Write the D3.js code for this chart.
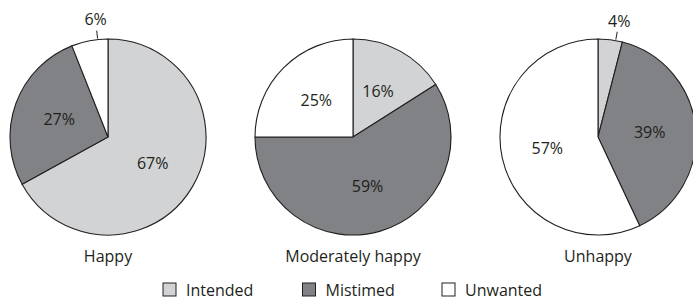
<!DOCTYPE html>
<html>
<head>
<meta charset="utf-8">
<script src="https://cdn.jsdelivr.net/npm/d3@7"></script>
<style>
  body { margin: 0; background: #fff; }
  text { font-family: "Open Sans", "Noto Sans", sans-serif; fill: #231f20; }
</style>
</head>
<body>
<div id="chart"></div>
<script>
// Pregnancy intention by happiness group (percent)
const groups = ['Happy', 'Moderately happy', 'Unhappy'];
const categories = ['Intended', 'Mistimed', 'Unwanted'];
const intended = [67, 16, 4];
const mistimed = [27, 59, 39];
const unwanted = [6, 25, 57];

const width = 693;
const height = 301;
const radius = 98;
const pieY = 137;

const color = d3.scaleOrdinal()
  .domain(categories)
  .range(['#d1d3d4', '#808285', '#ffffff']);

const x = d3.scalePoint()
  .domain(groups)
  .range([108, 598]);

const svg = d3.select('#chart')
  .append('svg')
  .attr('width', width)
  .attr('height', height);

const pie = d3.pie().sort(null).value(d => d.value);
const arc = d3.arc().innerRadius(0).outerRadius(radius);

groups.forEach((g, i) => {
  const values = [
    { cat: 'Intended', value: intended[i] },
    { cat: 'Mistimed', value: mistimed[i] },
    { cat: 'Unwanted', value: unwanted[i] }
  ];
  const arcs = pie(values);

  const chart = svg.append('g')
    .attr('transform', `translate(${x(g)},${pieY})`);

  chart.selectAll('path')
    .data(arcs)
    .join('path')
    .attr('d', arc)
    .attr('fill', d => color(d.data.cat))
    .attr('stroke', '#231f20')
    .attr('stroke-width', 1.1);

  // labels: small slices go outside with a leader line
  arcs.forEach(d => {
    const span = d.endAngle - d.startAngle;
    const small = d.data.value < 10;
    if (small) {
      const a = d.startAngle + span * 0.72;
      const p = (r) => [Math.sin(a) * r, -Math.cos(a) * r];
      const [x1, y1] = p(radius + 1);
      const [x2, y2] = p(radius + 9);
      chart.append('line')
        .attr('x1', x1).attr('y1', y1)
        .attr('x2', x2).attr('y2', y2)
        .attr('stroke', '#231f20')
        .attr('stroke-width', 1);
      const [lx, ly] = p(radius + 20);
      chart.append('text')
        .attr('x', lx)
        .attr('y', ly)
        .attr('dy', '0.35em')
        .attr('text-anchor', 'middle')
        .attr('font-size', 16)
        .text(d.data.value + '%');
    } else {
      const a = (d.startAngle + d.endAngle) / 2;
      const lr = radius * 0.53;
      chart.append('text')
        .attr('x', Math.sin(a) * lr)
        .attr('y', -Math.cos(a) * lr)
        .attr('dy', '0.35em')
        .attr('text-anchor', 'middle')
        .attr('font-size', 16)
        .text(d.data.value + '%');
    }
  });

  svg.append('text')
    .attr('x', x(g))
    .attr('y', 262)
    .attr('text-anchor', 'middle')
    .attr('font-size', 16)
    .text(g);
});

// Legend
const legendX = d3.scalePoint()
  .domain(categories)
  .range([163, 442]);

const legend = svg.selectAll('.legend')
  .data(categories)
  .join('g')
  .attr('class', 'legend')
  .attr('transform', d => `translate(${legendX(d)},283)`);

legend.append('rect')
  .attr('width', 13)
  .attr('height', 13)
  .attr('fill', d => color(d))
  .attr('stroke', '#231f20')
  .attr('stroke-width', 1);

legend.append('text')
  .attr('x', 23)
  .attr('y', 13)
  .attr('font-size', 16)
  .text(d => d);
</script>
</body>
</html>
